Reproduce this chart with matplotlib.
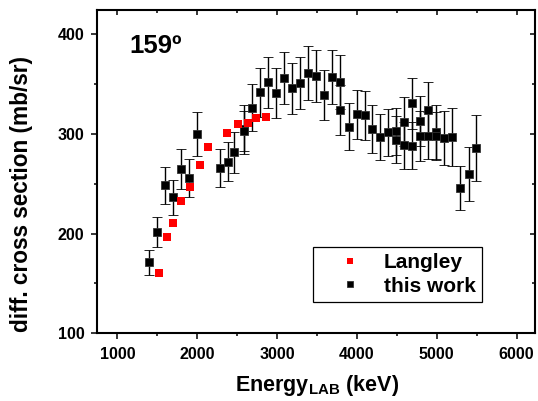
import matplotlib
matplotlib.use("Agg")
import matplotlib.pyplot as plt
from matplotlib.ticker import MultipleLocator
from matplotlib.legend_handler import HandlerLine2D

plt.rcParams['font.family'] = ['Liberation Sans', 'DejaVu Sans']
plt.rcParams['font.weight'] = 'bold'
plt.rcParams['mathtext.fontset'] = 'custom'
plt.rcParams['mathtext.rm'] = 'Liberation Sans:bold'
plt.rcParams['mathtext.bf'] = 'Liberation Sans:bold'

# Langley data
langley_E = [1520, 1620, 1701, 1798, 1906, 2031, 2131, 2368, 2509, 2638, 2737, 2864]
langley_xs = [160.8, 196.9, 210.3, 232.7, 246.4, 268.8, 286.9, 300.9, 310.2, 311.2, 315.6, 317.3]

# this work
work_E = [1391, 1491, 1591, 1691, 1791, 1892, 1992, 2288, 2388, 2459, 2582, 2590,
          2688, 2789, 2889, 2989, 3089, 3189, 3290, 3390, 3490, 3590, 3690, 3791,
          3791, 3896, 3996, 4096, 4191, 4292, 4392, 4492, 4492, 4592, 4592, 4692,
          4692, 4793, 4793, 4889, 4889, 4989, 4989, 5089, 5190, 5294, 5399, 5494]
work_xs = [171.2, 201.3, 248.4, 236.4, 265.1, 255.8, 299.6, 265.8, 272.1, 281.8, 304.5, 303.0,
           326.5, 341.7, 351.7, 341.3, 356.1, 345.7, 350.8, 360.8, 358.1, 339.5, 357.1, 352.4,
           323.7, 307.2, 320.0, 318.7, 304.6, 296.9, 301.6, 302.6, 294.2, 312.2, 288.6, 330.7,
           288.2, 312.9, 298.2, 324.0, 298.2, 301.6, 297.6, 295.6, 297.2, 245.4, 259.5, 286.2]
work_err = [12.7, 15.0, 18.5, 17.7, 20.0, 19.0, 22.0, 19.5, 19.7, 20.5, 25.0, 20.5,
            24.0, 25.0, 26.0, 25.0, 26.0, 26.0, 26.0, 27.0, 26.5, 25.0, 27.0, 27.0,
            25.0, 23.4, 24.6, 24.6, 24.0, 23.4, 23.6, 23.7, 23.4, 24.5, 23.5, 25.7,
            23.4, 25.0, 25.0, 27.8, 23.7, 27.0, 24.0, 27.0, 29.0, 22.0, 27.0, 33.0]

fig = plt.figure(figsize=(5.38, 4.01), dpi=100)
ax = fig.add_axes([97/538, 1-333.3/401, (535-97)/538, (333.3-10)/401])

eb = ax.errorbar(work_E, work_xs, yerr=work_err, fmt='s', color='black', ms=5.8,
                 mec='#333333', mew=0.6, ecolor='black', elinewidth=1.0, capsize=3.8,
                 capthick=1.0, zorder=3)
eb.lines[0].set_label('this work')
lang, = ax.plot(langley_E, langley_xs, 's', color='#ff0000', ms=5.2, mew=0,
                label='Langley', zorder=4)

ax.set_xlim(745, 6230)
ax.set_ylim(100, 424.4)
ax.xaxis.set_major_locator(MultipleLocator(1000))
ax.xaxis.set_minor_locator(MultipleLocator(500))
ax.yaxis.set_major_locator(MultipleLocator(100))
ax.yaxis.set_minor_locator(MultipleLocator(50))

for s in ax.spines.values():
    s.set_linewidth(1.5)

ax.tick_params(which='both', bottom=True, left=True, top=True, right=True,
               labeltop=False, labelright=False, width=1.1)
ax.tick_params(which='major', axis='x', direction='out', length=4.0, pad=6, labelsize=11.5)
ax.tick_params(which='major', axis='y', direction='out', length=4.5, pad=4.5, labelsize=11.5)
ax.tick_params(which='minor', direction='out', length=2.0)
# top/right ticks inward
for t in ax.xaxis.get_major_ticks() + ax.xaxis.get_minor_ticks():
    t.tick2line.set_marker(3)  # TICKDOWN
for t in ax.yaxis.get_major_ticks() + ax.yaxis.get_minor_ticks():
    t.tick2line.set_marker(0)  # TICKLEFT
for t in ax.xaxis.get_major_ticks():
    t.tick2line.set_markersize(3.6)
for t in ax.xaxis.get_minor_ticks():
    t.tick2line.set_markersize(2.2)
for t in ax.yaxis.get_major_ticks():
    t.tick2line.set_markersize(3.6)
for t in ax.yaxis.get_minor_ticks():
    t.tick2line.set_markersize(2.2)
for lab in ax.get_xticklabels() + ax.get_yticklabels():
    lab.set_fontweight('bold')

fig.text(317/538, 1-385/401, r'Energy$_{\mathrm{LAB}}$ (keV)', ha='center', va='center',
         fontsize=15.5, fontweight='bold')
fig.text(22/538, 1-194/401, 'diff. cross section (mb/sr)', ha='center', va='center',
         rotation=90, fontsize=16.3, fontweight='bold')
fig.text(129/538, 1-53.3/401, '159º', ha='left', va='baseline', fontsize=18.5,
         fontweight='bold')


def _legend_marker(legline, orig):
    legline.update_from(orig)
    legline.set_markersize(5.0)


hmap = {lang: HandlerLine2D(update_func=_legend_marker),
        eb.lines[0]: HandlerLine2D(update_func=_legend_marker)}
leg = ax.legend([lang, eb.lines[0]], ['Langley', 'this work'], handler_map=hmap,
                loc='lower left', bbox_to_anchor=(0.493, 0.097), fancybox=False,
                edgecolor='black', framealpha=1, prop={'weight': 'bold', 'size': 15},
                handlelength=3.0, handletextpad=0.1, borderpad=0.3, labelspacing=0.22,
                borderaxespad=0)
leg.get_frame().set_linewidth(0.9)

fig.savefig('out.png', dpi=100)
